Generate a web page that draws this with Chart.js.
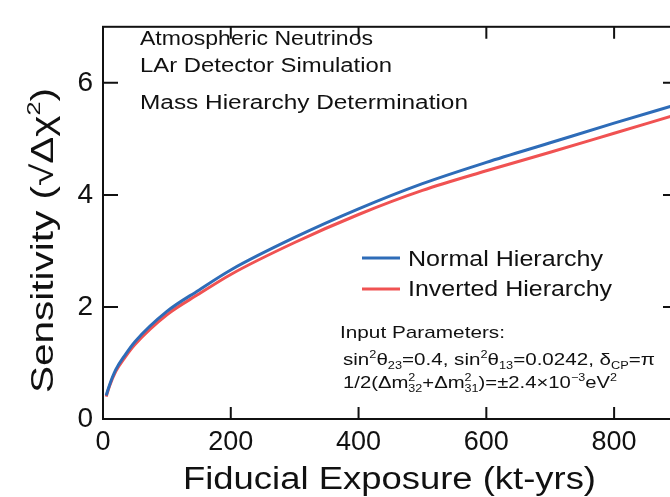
<!DOCTYPE html>
<html lang="en">
<head>
<meta charset="UTF-8">
<title>Mass Hierarchy Sensitivity</title>
<script src="https://cdn.jsdelivr.net/npm/chart.js"></script>
<style>
  body { margin: 0; overflow: hidden; background: #fff; }
  .wrap { width: 680px; height: 497px; }
</style>
</head>
<body>
<div class="wrap"><canvas id="grafico" width="680" height="497"></canvas></div>
<script>
  // data
  const exposure = [5, 10, 20, 35, 50, 100, 150, 200, 300, 400, 500, 600, 700, 800, 900];
  const normalH = [0.42, 0.60, 0.88, 1.15, 1.38, 1.92, 2.30, 2.66, 3.24, 3.75, 4.20, 4.58, 4.93, 5.28, 5.62];
  const invertedH = [0.40, 0.58, 0.85, 1.11, 1.33, 1.86, 2.23, 2.58, 3.15, 3.65, 4.08, 4.43, 4.76, 5.10, 5.44];
  const xTicks = [0, 200, 400, 600, 800];
  const yTicks = [0, 2, 4, 6];
  const seriesNames = ['Normal Hierarchy', 'Inverted Hierarchy'];

  const FONT = '"Liberation Sans", Arial, Helvetica, sans-serif';
  const BLUE = 'rgb(46,108,184)';
  const RED = 'rgb(240,82,82)';

  // text pieces: ['text', ''] normal, '^' superscript, '_' subscript, '^_' stacked "sup|sub"
  function segWidth(ctx, seg, size) {
    const [t, m] = seg;
    if (m === '') { ctx.font = size + 'px ' + FONT; return ctx.measureText(t).width; }
    ctx.font = (size * 0.62) + 'px ' + FONT;
    if (m === '^_') {
      const p = t.split('|');
      return Math.max(ctx.measureText(p[0]).width, ctx.measureText(p[1]).width);
    }
    return ctx.measureText(t).width;
  }

  function drawRich(ctx, segs, x, y, size, width, rot) {
    let natural = 0;
    segs.forEach(s => natural += segWidth(ctx, s, size));
    const sx = width ? width / natural : 1;
    ctx.save();
    ctx.translate(x, y);
    if (rot) ctx.rotate(rot);
    ctx.scale(sx, 1);
    ctx.fillStyle = '#111';
    ctx.textBaseline = 'alphabetic';
    ctx.textAlign = 'left';
    let cx = 0;
    segs.forEach(s => {
      const [t, m] = s;
      const w = segWidth(ctx, s, size);
      if (m === '') {
        ctx.font = size + 'px ' + FONT;
        ctx.fillText(t, cx, 0);
      } else {
        ctx.font = (size * 0.62) + 'px ' + FONT;
        if (m === '^') ctx.fillText(t, cx, -size * 0.42);
        if (m === '_') ctx.fillText(t, cx, size * 0.22);
        if (m === '^_') {
          const p = t.split('|');
          ctx.fillText(p[0], cx, -size * 0.42);
          ctx.fillText(p[1], cx, size * 0.25);
        }
      }
      cx += w;
    });
    ctx.restore();
  }

  const decor = {
    id: 'decor',
    afterDatasetsDraw(chart) {
      const ctx = chart.ctx;
      const a = chart.chartArea;
      const xs = chart.scales.x, ys = chart.scales.y;
      ctx.save();
      ctx.strokeStyle = '#111';
      ctx.lineWidth = 2;
      ctx.strokeRect(a.left, a.top, a.right - a.left, a.bottom - a.top);
      ctx.beginPath();
      yTicks.forEach(v => {
        const py = ys.getPixelForValue(v);
        ctx.moveTo(a.left, py); ctx.lineTo(a.left + 15, py);
        ctx.moveTo(a.right, py); ctx.lineTo(a.right - 15, py);
      });
      xTicks.forEach(v => {
        const px = xs.getPixelForValue(v);
        ctx.moveTo(px, a.bottom); ctx.lineTo(px, a.bottom - 12);
        ctx.moveTo(px, a.top); ctx.lineTo(px, a.top + 12);
      });
      ctx.stroke();

      // legend
      ctx.lineWidth = 3;
      ctx.strokeStyle = BLUE;
      ctx.beginPath(); ctx.moveTo(362, 258); ctx.lineTo(400, 258); ctx.stroke();
      ctx.strokeStyle = RED;
      ctx.beginPath(); ctx.moveTo(362, 289); ctx.lineTo(400, 289); ctx.stroke();
      ctx.restore();

      drawRich(ctx, [[seriesNames[0], '']], 408, 266, 22, 195);
      drawRich(ctx, [[seriesNames[1], '']], 408, 296, 22, 204);

      drawRich(ctx, [['Atmospheric Neutrinos', '']], 140, 45, 19.5, 233);
      drawRich(ctx, [['LAr Detector Simulation', '']], 140, 72, 19.5, 252);
      drawRich(ctx, [['Mass Hierarchy Determination', '']], 140, 109, 19.5, 328);

      drawRich(ctx, [['Input Parameters:', '']], 340, 338, 17, 165);
      drawRich(ctx, [['sin', ''], ['2', '^'], ['θ', ''], ['23', '_'], ['=0.4, sin', ''], ['2', '^'], ['θ', ''], ['13', '_'],
        ['=0.0242, δ', ''], ['CP', '_'], ['=π', '']], 343, 365, 17, 312);
      drawRich(ctx, [['1/2(Δm', ''], ['2|32', '^_'], ['+Δm', ''], ['2|31', '^_'], [')=±2.4×10', ''], ['−3', '^'],
        ['eV', ''], ['2', '^']], 343, 388, 17, 274);

      // axis titles
      drawRich(ctx, [['Fiducial Exposure (kt-yrs)', '']], 183, 489, 31, 413);
      drawRich(ctx, [['Sensitivity (√Δχ', ''], ['2', '^'], [')', '']], 53, 393, 31, 305, -Math.PI / 2);
    }
  };

  new Chart(document.getElementById('grafico'), {
    type: 'line',
    data: {
      datasets: [{
        label: seriesNames[0],
        data: exposure.map((x, i) => ({ x: x, y: normalH[i] })),
        borderColor: BLUE,
        backgroundColor: BLUE,
        borderWidth: 3,
        pointRadius: 0,
        cubicInterpolationMode: 'monotone'
      },
      {
        label: seriesNames[1],
        data: exposure.map((x, i) => ({ x: x, y: invertedH[i] })),
        borderColor: RED,
        backgroundColor: RED,
        borderWidth: 3,
        pointRadius: 0,
        cubicInterpolationMode: 'monotone'
      }]
    },
    options: {
      responsive: false,
      animation: false,
      layout: { padding: { left: 0, right: 2, top: 8, bottom: 0 } },
      plugins: { legend: { display: false }, tooltip: { enabled: false } },
      scales: {
        x: {
          type: 'linear',
          min: 0,
          max: 900,
          afterBuildTicks: s => { s.ticks = xTicks.map(v => ({ value: v })); },
          afterFit: s => { s.height = 78; },
          grid: { display: false, drawTicks: false },
          border: { display: false },
          ticks: { padding: 7, color: '#111', font: { family: FONT, size: 27 } }
        },
        y: {
          min: 0,
          max: 7,
          afterBuildTicks: s => { s.ticks = yTicks.map(v => ({ value: v })); },
          afterFit: s => { s.width = 103; },
          grid: { display: false, drawTicks: false },
          border: { display: false },
          ticks: { padding: 10, color: '#111', font: { family: FONT, size: 28 } }
        }
      }
    },
    plugins: [decor]
  });
</script>
</body>
</html>
